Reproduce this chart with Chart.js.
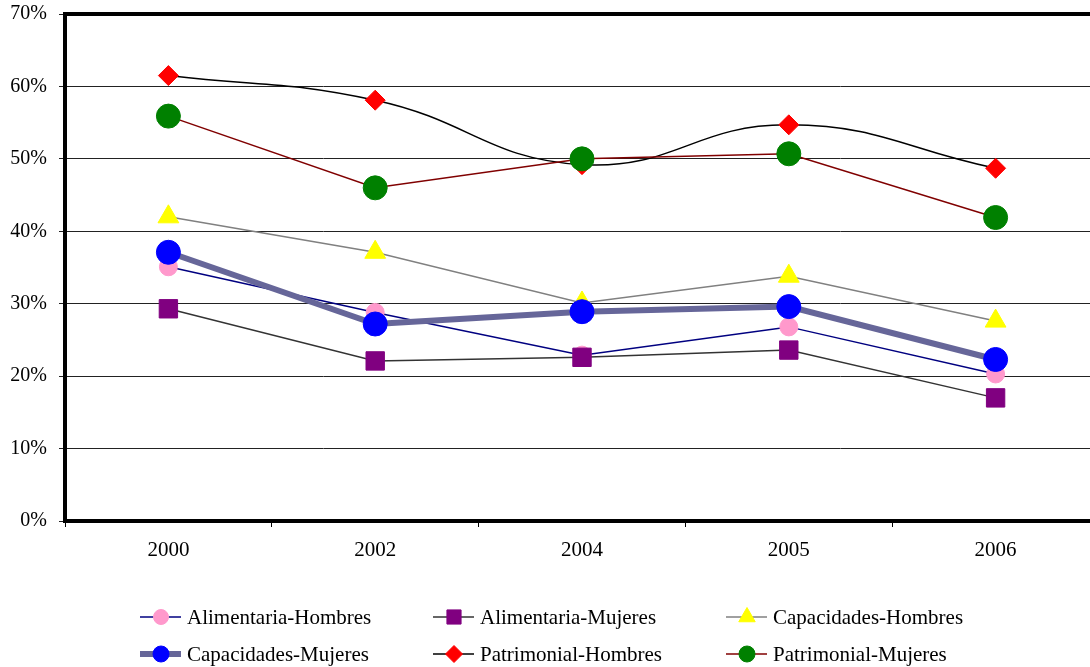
<!DOCTYPE html>
<html>
<head>
<meta charset="utf-8">
<script src="https://cdn.jsdelivr.net/npm/chart.js@4.4.1/dist/chart.umd.min.js"></script>
<style>
  html, body { margin: 0; padding: 0; background: #fff; overflow: hidden; }
  #wrap { position: absolute; left: 0; top: 0; width: 1090px; height: 667px; overflow: hidden; }
  canvas { display: block; }
</style>
</head>
<body>
<div id="wrap"><canvas id="chart" width="1113" height="667"></canvas></div>
<script>
// categories and values (percent)
const years = ["2000", "2002", "2004", "2005", "2006"];
const yTicks = [0, 10, 20, 30, 40, 50, 60, 70];

const alimentariaHombres = [35.1, 28.8, 22.9, 26.8, 20.3];
const alimentariaMujeres = [29.3, 22.1, 22.6, 23.6, 17.0];
const capacidadesHombres = [42.0, 37.1, 30.1, 33.8, 27.6];
const capacidadesMujeres = [37.1, 27.2, 28.9, 29.6, 22.3];
const patrimonialHombres = [61.5, 58.1, 49.2, 54.7, 48.7];
const patrimonialMujeres = [55.9, 46.0, 50.0, 50.7, 41.9];

const seriesNames = [
  "Alimentaria-Hombres", "Alimentaria-Mujeres", "Capacidades-Hombres",
  "Capacidades-Mujeres", "Patrimonial-Hombres", "Patrimonial-Mujeres"
];
const seriesValues = [
  alimentariaHombres, alimentariaMujeres, capacidadesHombres,
  capacidadesMujeres, patrimonialHombres, patrimonialMujeres
];

// look of each series: line colour, line width, marker
const styles = [
  {line: "#000080", width: 1.5, fill: "#FF99CC", shape: "circle",   r: 9,  lr: 7.5, tension: 0},
  {line: "#333333", width: 1.5, fill: "#800080", shape: "rect",     r: 13, lr: 10,  tension: 0},
  {line: "#808080", width: 1.5, fill: "#FFFF00", shape: "triangle", r: 12, lr: 9.5, tension: 0},
  {line: "#666699", width: 6,   fill: "#0000FF", shape: "circle",   r: 12, lr: 8,   tension: 0},
  {line: "#000000", width: 1.5, fill: "#FF0000", shape: "rectRot",  r: 10, lr: 8.5, tension: 0.45},
  {line: "#800000", width: 1.5, fill: "#008000", shape: "circle",   r: 12, lr: 8,   tension: 0}
];

const FONT = "'Liberation Serif', 'Times New Roman', serif";

const datasets = seriesNames.map((name, i) => ({
  label: name,
  data: seriesValues[i],
  borderColor: styles[i].line,
  borderWidth: styles[i].width,
  backgroundColor: styles[i].fill,
  pointBackgroundColor: styles[i].fill,
  pointBorderColor: styles[i].fill,
  pointBorderWidth: 1,
  pointStyle: styles[i].shape,
  pointRadius: styles[i].r,
  pointHoverRadius: styles[i].r,
  tension: styles[i].tension,
  order: seriesNames.length - i   // later series drawn on top, like the original
}));

// thick frame around the plot area
const frame = {
  id: "frame",
  beforeDatasetsDraw(chart) {
    const a = chart.chartArea, ctx = chart.ctx;
    ctx.save();
    ctx.strokeStyle = "#000";
    ctx.lineWidth = 4;
    ctx.strokeRect(a.left, a.top, a.right - a.left, a.bottom - a.top);
    ctx.restore();
  }
};

// two-row legend with line + marker samples
const legendGrid = {
  id: "legendGrid",
  afterDraw(chart) {
    const ctx = chart.ctx;
    const colX = [140, 433, 726];
    const rowY = [617, 654];
    ctx.save();
    seriesNames.forEach((name, i) => {
      const x = colX[i % 3], y = rowY[Math.floor(i / 3)];
      const s = styles[i];
      ctx.strokeStyle = s.line;
      ctx.lineWidth = s.width;
      ctx.beginPath();
      ctx.moveTo(x, y);
      ctx.lineTo(x + 41, y);
      ctx.stroke();
      ctx.fillStyle = s.fill;
      ctx.strokeStyle = s.fill;
      ctx.lineWidth = 1;
      Chart.helpers.drawPoint(ctx, {pointStyle: s.shape, radius: s.lr, borderWidth: 1}, x + 21, y);
      ctx.fillStyle = "#000";
      ctx.font = "21px " + FONT;
      ctx.textBaseline = "middle";
      ctx.textAlign = "left";
      ctx.fillText(name, x + 47, y + 1);
    });
    ctx.restore();
  }
};

new Chart(document.getElementById("chart"), {
  type: "line",
  data: { labels: years, datasets: datasets },
  options: {
    responsive: false,
    animation: false,
    events: [],
    layout: { padding: { top: 14, right: 0, bottom: 0, left: 0 } },
    plugins: { legend: { display: false }, tooltip: { enabled: false } },
    scales: {
      x: {
        offset: true,
        grid: { drawOnChartArea: false, drawTicks: true, tickLength: 6, color: "#000", offset: true },
        border: { display: false },
        ticks: { color: "#000", font: { family: FONT, size: 21 }, padding: 11, maxRotation: 0 },
        afterFit(scale) {
          scale.height = 146;
          scale.paddingLeft = 0;
          scale.paddingRight = 0;
        }
      },
      y: {
        min: 0,
        max: 70,
        afterBuildTicks(scale) { scale.ticks = yTicks.map(v => ({ value: v })); },
        grid: { color: "#222", lineWidth: 1, drawTicks: true, tickLength: 6 },
        border: { display: false },
        ticks: {
          color: "#000",
          font: { family: FONT, size: 20 },
          padding: 12,
          callback: v => v + "%"
        },
        afterFit(scale) {
          scale.width = 65;
          scale.paddingTop = 0;
          scale.paddingBottom = 0;
        }
      }
    }
  },
  plugins: [frame, legendGrid]
});
</script>
</body>
</html>
